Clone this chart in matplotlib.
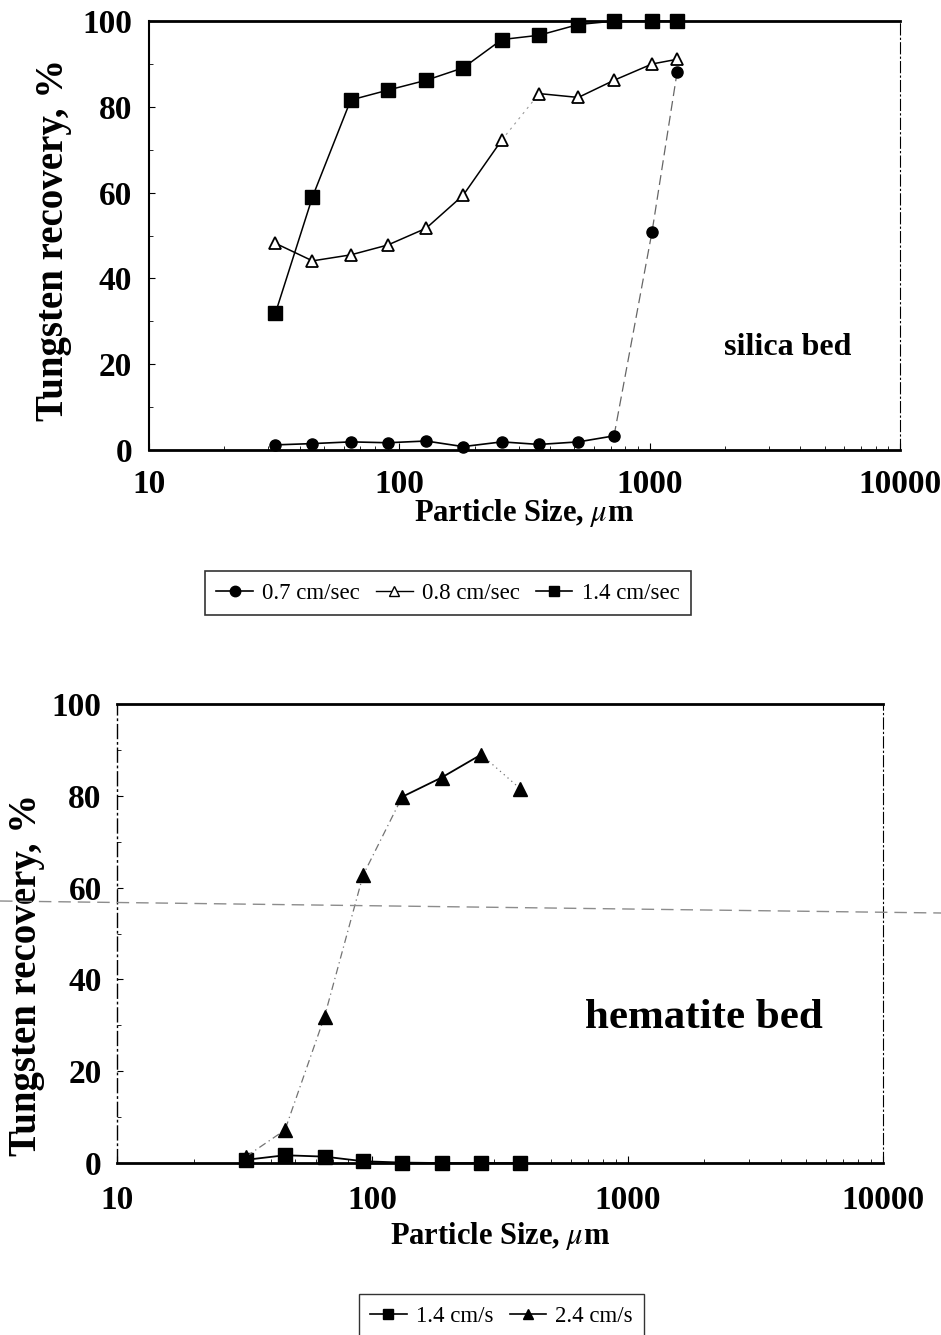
import matplotlib
matplotlib.use("Agg")
import matplotlib.pyplot as plt
from matplotlib.lines import Line2D

plt.rcParams['font.family'] = ['Liberation Serif', 'DejaVu Serif']
plt.rcParams['mathtext.fontset'] = 'stix'

# silica bed data (particle size in um, tungsten recovery in %)
sizes_silica = [32, 45, 64, 90, 128, 180, 257, 362, 519, 721, 1023, 1289]
rec_07 = [1.2, 1.5, 1.9, 1.7, 2.1, 0.8, 1.9, 1.3, 1.9, 3.3, 50.9, 88.2]
rec_08 = [48.2, 44.1, 45.5, 47.8, 51.7, 59.4, 72.3, 83.1, 82.2, 86.2, 90.0, 91.1]
rec_14 = [31.9, 59.0, 81.6, 83.9, 86.2, 89.1, 95.7, 96.7, 99.2, 100, 100, 100]
labels_silica = ['0.7 cm/sec', '0.8 cm/sec', '1.4 cm/sec']

# hematite bed data
sizes_hem = [32, 45.5, 65, 92, 131, 187, 267, 379]
rec_hem_14 = [0.7, 1.7, 1.4, 0.4, 0.1, 0, 0, 0]
rec_hem_24 = [1.4, 7.2, 31.9, 62.7, 79.8, 84.0, 89.0, 81.6]
labels_hem = ['1.4 cm/s', '2.4 cm/s']

xticks = [10, 100, 1000, 10000]
xticklabels = ['10', '100', '1000', '10000']
yticks = [0, 20, 40, 60, 80, 100]

fig = plt.figure(figsize=(9.41, 13.35), dpi=100)
ax1 = fig.add_axes([0.1583, 0.6629, 0.798, 0.3213])
ax2 = fig.add_axes([0.1243, 0.1288, 0.814, 0.3438])


def style_axes(ax, xpad, ypad, left_solid):
    ax.set_xscale('log')
    ax.set_xlim(10, 10000)
    ax.set_ylim(0, 100)
    ax.set_xticks(xticks, labels=xticklabels)
    ax.set_yticks(yticks)
    ax.set_yticks(range(10, 100, 20), minor=True)
    ax.tick_params(axis='both', which='both', direction='in', top=False, right=False)
    ax.tick_params(axis='x', which='major', length=5, pad=xpad, labelsize=24)
    ax.tick_params(axis='y', which='major', length=4, pad=ypad, labelsize=24)
    ax.tick_params(which='minor', length=3)
    for lab in ax.get_xticklabels() + ax.get_yticklabels():
        lab.set_fontweight('bold')
    ax.spines['top'].set_linewidth(2)
    ax.spines['bottom'].set_linewidth(2)
    if left_solid:
        ax.spines['left'].set_linewidth(1.5)
    else:
        ax.spines['left'].set_linewidth(1)
        ax.spines['left'].set_linestyle((0, (10, 3, 1, 3)))
    ax.spines['right'].set_linewidth(0.8)
    ax.spines['right'].set_linestyle((0, (10, 3, 1, 3)))
    ax.set_xlabel(r'Particle Size, $\mu$m', fontsize=22, fontweight='bold')
    ax.set_ylabel('Tungsten recovery, %', fontsize=28, fontweight='bold')


style_axes(ax1, 14, 12, True)
style_axes(ax2, 16, 11, False)

# top chart: silica bed
ax1.plot(sizes_silica[:10], rec_07[:10], color='k', lw=1.2, clip_on=False)
ax1.plot(sizes_silica[9:], rec_07[9:], color='0.4', lw=0.9, ls=(0, (8, 4)))
ax1.plot(sizes_silica, rec_07, ls='none', marker='o', color='k', ms=8, clip_on=False)

ax1.plot(sizes_silica[:7], rec_08[:7], color='k', lw=1.1)
ax1.plot(sizes_silica[6:8], rec_08[6:8], color='0.6', lw=0.8, ls=(0, (2, 4)))
ax1.plot(sizes_silica[7:], rec_08[7:], color='k', lw=1.1)
ax1.plot(sizes_silica, rec_08, ls='none', marker='^', mfc='white', mec='k', mew=1.3, ms=9)

ax1.plot(sizes_silica, rec_14, color='k', lw=1.1, clip_on=False)
ax1.plot(sizes_silica, rec_14, ls='none', marker='s', color='k', ms=9.5, clip_on=False)

ax1.text(0.85, 0.24, 'silica bed', transform=ax1.transAxes, ha='center', va='center',
         fontsize=23, fontweight='bold')
ax1.xaxis.set_label_coords(0.5, -0.11)
ax1.yaxis.set_label_coords(-0.103, 0.49)

# bottom chart: hematite bed
ax2.plot(sizes_hem, rec_hem_14, color='k', lw=1.3)
ax2.plot(sizes_hem, rec_hem_14, ls='none', marker='s', color='k', ms=9.5, clip_on=False)
ax2.plot(sizes_hem[:5], rec_hem_24[:5], color='0.45', lw=0.9, ls=(0, (6, 3, 1, 3)))
ax2.plot(sizes_hem[4:7], rec_hem_24[4:7], color='k', lw=1.3)
ax2.plot(sizes_hem[6:], rec_hem_24[6:], color='0.45', lw=0.9, ls=(0, (1, 3)))
ax2.plot(sizes_hem, rec_hem_24, ls='none', marker='^', color='k', ms=10, clip_on=False)

ax2.text(0.766, 0.316, 'hematite bed', transform=ax2.transAxes, ha='center', va='center',
         fontsize=31, fontweight='bold')
ax2.xaxis.set_label_coords(0.5, -0.124)
ax2.yaxis.set_label_coords(-0.094, 0.41)

# legends
h_silica = [
    Line2D([], [], color='k', lw=1.2, marker='o', ms=7.5),
    Line2D([], [], color='k', lw=1.0, marker='^', mfc='white', mec='k', ms=7.5),
    Line2D([], [], color='k', lw=1.2, marker='s', ms=7.5),
]
leg1 = fig.legend(h_silica, labels_silica, loc='center', bbox_to_anchor=(0.476, 0.5558),
                  ncol=3, fontsize=16.5, handlelength=1.6, handletextpad=0.4,
                  columnspacing=0.7, frameon=True, fancybox=False, borderpad=0.5)
leg1.get_frame().set_edgecolor('k')
leg1.get_frame().set_linewidth(1.2)

h_hem = [
    Line2D([], [], color='k', lw=1.2, marker='s', ms=7.5),
    Line2D([], [], color='k', lw=1.2, marker='^', ms=7.5),
]
leg2 = fig.legend(h_hem, labels_hem, loc='center', bbox_to_anchor=(0.533, 0.0142),
                  ncol=2, fontsize=16.5, handlelength=1.6, handletextpad=0.4,
                  columnspacing=0.7, frameon=True, fancybox=False, borderpad=0.5)
leg2.get_frame().set_edgecolor('k')
leg2.get_frame().set_linewidth(1.0)

# scanner fold line across the page
fig.add_artist(Line2D([0, 1], [1 - 901 / 1335, 1 - 913 / 1335], transform=fig.transFigure,
                      color='0.55', lw=1, ls=(0, (9, 5))))

fig.savefig('out.png', dpi=100)
